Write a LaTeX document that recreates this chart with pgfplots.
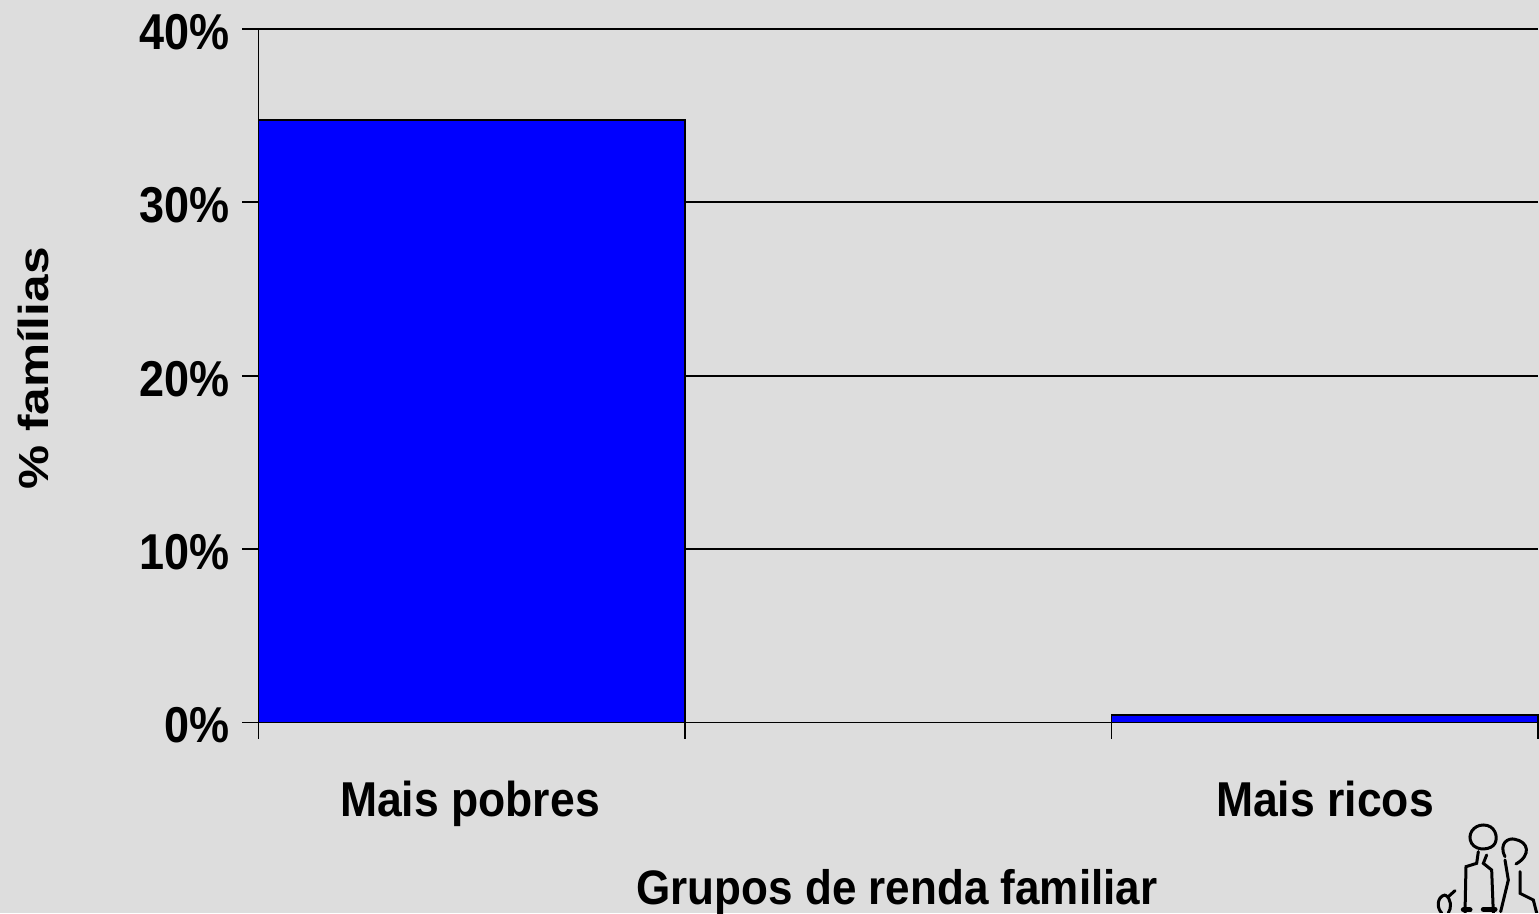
\documentclass[border=0pt]{standalone}
\usepackage{pgfplots}
\pgfplotsset{compat=1.18}
\usepackage{fontspec}
\usepackage{graphicx}
\setmainfont{Liberation Sans}
\definecolor{bg}{HTML}{DDDDDD}
\newcommand{\tl}[1]{\scalebox{1}[1.12]{#1}}
\begin{document}
\begin{tikzpicture}
\path[use as bounding box] (0pt,0pt) rectangle (1539pt,913pt);
\fill[bg] (0pt,0pt) rectangle (1539pt,913pt);
\begin{axis}[
  at={(258.5pt,190.5pt)},anchor=south west,
  width=1279.5pt,height=693.5pt,scale only axis,
  clip=false,
  xmin=0,xmax=3,ymin=0,ymax=40,
  axis line style={black,line width=1.8pt},
  axis x line*=bottom,
  axis y line*=left,
  separate axis lines,
  xtick={0,1,2,3},xticklabels={},
  ytick={0,10,20,30,40},
  yticklabels={\tl{0\%},\tl{10\%},\tl{20\%},\tl{30\%},\tl{40\%}},
  tick style={black,line width=1.8pt},
  tick align=outside,
  major tick length=16.5pt,
  ymajorgrids,
  grid style={black,line width=1.8pt},
  yticklabel style={font=\fontsize{45}{45}\selectfont\bfseries,inner sep=0pt,xshift=-12pt,yshift=-3pt},
]
\addplot[ybar interval,fill=blue,draw=black,line width=1.8pt] coordinates {(0,34.75)(1,34.75)};
\addplot[ybar interval,fill=blue,draw=black,line width=1.8pt] coordinates {(2,0.45)(3,0.45)};
\end{axis}
\node[anchor=base,inner sep=0pt,font=\fontsize{44.5}{44.5}\selectfont\bfseries] at (470pt,96pt) {\scalebox{1}[1.1]{Mais pobres}};
\node[anchor=base,inner sep=0pt,font=\fontsize{44.5}{44.5}\selectfont\bfseries] at (1325pt,96pt) {\scalebox{1}[1.1]{Mais ricos}};
\node[anchor=base,inner sep=0pt,font=\fontsize{44}{44}\selectfont\bfseries] at (897pt,9pt) {\scalebox{1}[1.1]{Grupos de renda familiar}};
\node[inner sep=0pt,font=\fontsize{42}{42}\selectfont\bfseries,rotate=90] at (33pt,544.5pt) {\scalebox{1.18}[1]{\% famílias}};
\begin{scope}[shift={(1380pt,213pt)},x=0.3333pt,y=-0.3333pt,line width=3pt,black,line cap=round]
\clip (0,0) rectangle (477,639);
\draw (310,375) .. controls (345,375) and (355,410) .. (345,430) .. controls (335,450) and (290,455) .. (275,430) .. controls (260,405) and (280,375) .. (310,375);
\draw (295,455) -- (290,490) -- (258,500) -- (255,639);
\draw (320,465) -- (310,490) -- (335,510) -- (340,639);
\draw (375,470) .. controls (355,430) and (385,412) .. (405,418) .. controls (445,425) and (455,465) .. (408,492);
\draw (375,480) -- (385,540) -- (362,635);
\draw (420,515) -- (420,580) -- (460,600) -- (470,639);
\draw (225,572) -- (205,590);
\draw (195,585) .. controls (170,590) and (170,625) .. (185,639);
\draw (195,585) .. controls (215,595) and (215,625) .. (205,639);
\draw[line width=5pt] (250,630) -- (270,630);
\draw[line width=5pt] (310,628) -- (345,628);
\end{scope}
\end{tikzpicture}
\end{document}
